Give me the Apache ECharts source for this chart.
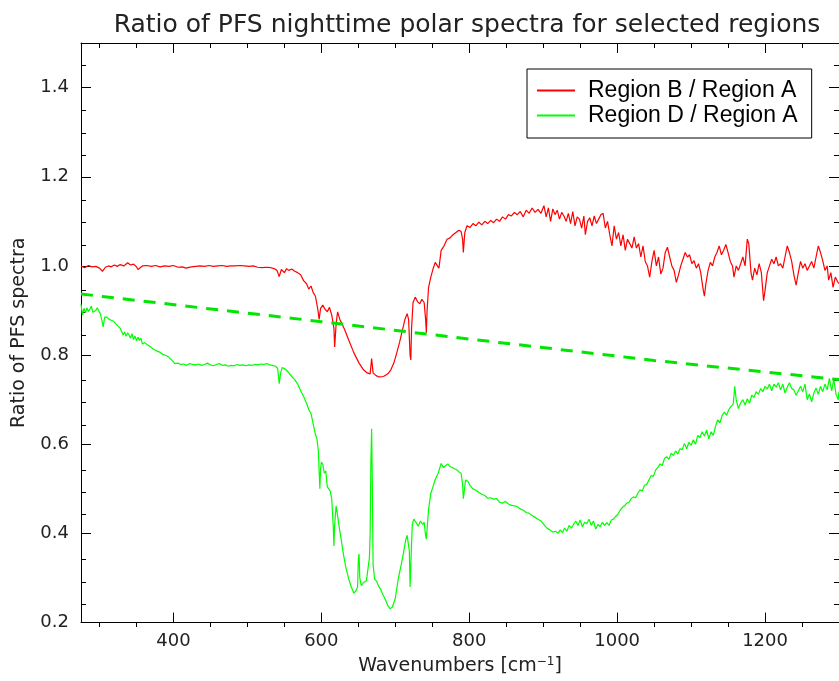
<!DOCTYPE html>
<html>
<head>
<meta charset="utf-8">
<script src="https://cdn.jsdelivr.net/npm/echarts@6/dist/echarts.min.js"></script>
<style>html,body{margin:0;padding:0;background:#fff}#c{width:839px;height:681px}</style>
</head>
<body>
<div id="c"></div>
<script>
// ---- tick values ----
var xMajorTicks = [400, 600, 800, 1000, 1200];
var xMinorTicks = [300, 350, 450, 500, 550, 650, 700, 750, 850, 900, 950, 1050, 1100, 1150, 1250, 1300];
var yMajorTicks = [0.2, 0.4, 0.6, 0.8, 1.0, 1.2, 1.4];
var yMinorTicks = [0.25, 0.3, 0.35, 0.45, 0.5, 0.55, 0.65, 0.7, 0.75, 0.85, 0.9, 0.95, 1.05, 1.1, 1.15, 1.25, 1.3, 1.35, 1.45, 1.5];

// ---- Region B / Region A ----
var wnB = [275,280,285,290,295,300,304,308,312,316,320,324,328,333,338,342,346,350,352,358,364,370,376,382,388,394,400,406,412,417,424,430,436,442,448,454,460,466,472,478,484,490,496,502,508,514,520,526,532,536,540,543,546,550,553,556,560,564,568,572,576,580,583,586,589,592,595,597,599,602,605,608,611,614,617,618,620,622,625,628,632,637,644,651,657,662,666,668,670,674,678,684,690,694,698,702,706,710,713,716,718,720,721,722,724,727,730,733,736,739,741,742,743,745,748,751,754,757,759,762,766,770,774,778,782,786,789,791,792,794,797,801,805,809,813,817,821,825,829,833,837,841,845,849,853,857,861,865,869,873,877,881,885,889,893,897,901,904,907,910,913,916,919,922,925,928,931,934,937,940,943,946,949,952,955,957,960,963,966,969,972,975,978,981,984,987,990,993,996,999,1002,1005,1008,1011,1014,1017,1020,1023,1026,1029,1032,1035,1038,1041,1044,1047,1050,1053,1056,1059,1062,1065,1068,1071,1074,1077,1080,1083,1086,1089,1092,1095,1098,1101,1104,1107,1110,1113,1116,1118,1120,1123,1126,1129,1132,1135,1138,1141,1144,1147,1150,1153,1156,1158,1161,1164,1167,1170,1173,1176,1178,1181,1183,1186,1189,1192,1195,1198,1200,1203,1206,1209,1212,1215,1218,1221,1224,1227,1230,1233,1236,1239,1242,1245,1248,1251,1254,1257,1260,1263,1266,1269,1272,1275,1278,1281,1284,1286,1289,1292,1295,1298,1300];
var ratioB = [1.000,0.996,1.001,0.998,0.999,0.995,0.988,0.997,1.000,0.998,1.002,0.999,1.003,1.000,1.007,1.002,1.004,0.998,0.992,1.000,1.001,0.999,1.001,0.998,1.000,0.999,1.001,0.997,0.998,0.995,0.998,0.999,1.000,0.999,1.001,0.999,1.000,1.001,0.999,1.000,1.000,1.001,1.000,0.999,1.000,0.997,0.996,0.997,0.996,0.994,0.990,0.976,0.992,0.985,0.994,0.990,0.993,0.988,0.985,0.980,0.967,0.960,0.948,0.955,0.940,0.932,0.905,0.880,0.905,0.912,0.903,0.897,0.907,0.890,0.860,0.818,0.870,0.897,0.880,0.870,0.855,0.834,0.805,0.782,0.767,0.760,0.758,0.792,0.760,0.754,0.751,0.752,0.758,0.767,0.782,0.805,0.830,0.858,0.880,0.893,0.880,0.800,0.789,0.860,0.918,0.930,0.920,0.915,0.925,0.918,0.880,0.850,0.900,0.952,0.975,0.993,1.008,1.000,0.995,1.035,1.045,1.060,1.063,1.070,1.075,1.080,1.077,1.060,1.030,1.075,1.090,1.086,1.095,1.090,1.098,1.092,1.100,1.095,1.102,1.097,1.105,1.100,1.110,1.105,1.115,1.112,1.120,1.115,1.122,1.110,1.125,1.118,1.130,1.120,1.127,1.118,1.135,1.110,1.130,1.100,1.128,1.115,1.125,1.105,1.120,1.112,1.100,1.118,1.095,1.122,1.090,1.110,1.105,1.085,1.112,1.070,1.100,1.108,1.090,1.112,1.095,1.105,1.115,1.118,1.085,1.100,1.070,1.045,1.090,1.060,1.075,1.045,1.070,1.035,1.060,1.050,1.040,1.065,1.040,1.050,1.020,1.045,1.010,1.000,0.975,1.010,1.035,1.000,1.020,0.982,0.995,1.030,1.042,1.020,1.000,0.990,0.963,0.980,1.000,1.015,1.030,1.020,1.025,1.005,1.012,0.995,1.005,0.985,0.950,0.932,0.960,0.990,1.008,1.000,1.020,1.030,1.045,1.025,1.035,1.048,1.030,1.010,1.000,0.975,1.000,0.990,1.005,1.020,1.000,1.060,1.050,0.985,0.968,0.995,0.980,1.005,0.985,0.922,0.945,0.985,1.000,1.015,1.005,1.020,1.000,1.005,0.995,1.020,1.045,1.030,1.010,0.980,0.957,0.985,1.010,0.995,1.005,0.990,1.000,1.010,0.995,1.020,1.045,1.030,1.012,0.990,1.000,0.968,0.985,0.952,0.975,0.965,0.960];

// ---- Region D / Region A ----
var wnD = [275,277,279,281,283,285,287,289,291,293,295,297,299,301,303,305,307,310,313,316,319,322,325,328,330,332,334,336,338,340,342,344,346,348,350,352,354,356,358,361,364,367,370,374,378,382,386,390,394,398,402,406,410,414,418,422,426,430,434,438,442,446,450,454,458,462,466,470,474,478,482,486,490,494,498,502,506,510,514,518,522,526,530,534,538,541,543,545,547,550,553,556,560,564,568,572,576,580,583,586,589,592,594,596,597,598,599,600,602,604,606,608,610,612,614,616,617,618,620,622,624,627,630,633,637,640,644,647,649,650,651,652,654,657,661,663,665,666,667,668,669,670,672,675,677,680,684,687,690,693,696,700,704,708,711,714,716,718,719,720,721,723,725,728,731,734,737,739,741,742,743,745,748,751,754,758,762,765,768,771,774,777,780,783,786,789,791,792,793,795,798,801,805,809,813,817,821,825,829,833,837,841,845,849,853,857,861,865,869,873,877,881,885,889,893,897,901,905,909,913,917,920,923,926,929,932,935,938,941,944,947,950,953,956,959,962,965,968,971,974,977,980,983,986,989,992,995,998,1001,1004,1007,1010,1013,1016,1019,1022,1025,1028,1031,1034,1037,1040,1043,1046,1049,1052,1055,1058,1061,1064,1067,1070,1073,1076,1079,1082,1085,1088,1091,1094,1097,1100,1103,1106,1109,1112,1115,1118,1121,1124,1127,1130,1133,1136,1139,1142,1145,1148,1151,1154,1157,1159,1161,1164,1167,1170,1173,1176,1179,1182,1185,1188,1191,1194,1197,1200,1203,1206,1209,1212,1215,1218,1221,1224,1227,1230,1233,1236,1239,1242,1245,1248,1251,1254,1257,1260,1263,1266,1269,1272,1275,1278,1281,1284,1287,1290,1293,1296,1299,1300];
var ratioD = [0.914,0.890,0.905,0.895,0.906,0.898,0.903,0.910,0.896,0.894,0.900,0.906,0.899,0.893,0.880,0.863,0.885,0.885,0.880,0.878,0.876,0.870,0.865,0.860,0.858,0.845,0.852,0.842,0.850,0.845,0.838,0.848,0.835,0.843,0.832,0.840,0.833,0.838,0.825,0.828,0.824,0.821,0.817,0.812,0.809,0.806,0.801,0.799,0.795,0.788,0.781,0.782,0.779,0.780,0.777,0.781,0.779,0.778,0.780,0.777,0.779,0.782,0.778,0.776,0.779,0.781,0.777,0.778,0.775,0.777,0.776,0.779,0.777,0.778,0.776,0.778,0.777,0.779,0.778,0.780,0.779,0.781,0.778,0.777,0.775,0.770,0.736,0.760,0.772,0.770,0.766,0.760,0.752,0.745,0.735,0.720,0.707,0.692,0.678,0.669,0.645,0.622,0.612,0.585,0.540,0.500,0.545,0.560,0.555,0.535,0.540,0.505,0.502,0.495,0.478,0.420,0.372,0.420,0.462,0.440,0.416,0.385,0.352,0.325,0.298,0.282,0.266,0.272,0.280,0.340,0.354,0.300,0.283,0.290,0.294,0.320,0.345,0.400,0.560,0.635,0.500,0.330,0.298,0.292,0.283,0.275,0.260,0.250,0.238,0.231,0.235,0.254,0.298,0.330,0.356,0.385,0.396,0.399,0.360,0.280,0.330,0.420,0.432,0.425,0.416,0.428,0.420,0.425,0.395,0.387,0.410,0.454,0.490,0.505,0.521,0.535,0.557,0.548,0.552,0.556,0.550,0.548,0.545,0.543,0.538,0.535,0.510,0.478,0.490,0.520,0.517,0.508,0.500,0.497,0.492,0.488,0.485,0.479,0.480,0.477,0.478,0.470,0.468,0.472,0.466,0.463,0.462,0.460,0.455,0.452,0.447,0.445,0.440,0.436,0.432,0.428,0.420,0.412,0.408,0.403,0.405,0.400,0.408,0.402,0.412,0.405,0.418,0.412,0.420,0.428,0.418,0.430,0.415,0.425,0.422,0.432,0.418,0.428,0.410,0.420,0.415,0.425,0.418,0.424,0.418,0.430,0.432,0.438,0.443,0.452,0.458,0.462,0.468,0.470,0.478,0.482,0.480,0.490,0.498,0.495,0.508,0.510,0.520,0.530,0.528,0.542,0.548,0.556,0.552,0.568,0.572,0.566,0.580,0.575,0.585,0.578,0.590,0.588,0.602,0.590,0.604,0.598,0.610,0.600,0.620,0.615,0.628,0.618,0.632,0.612,0.628,0.620,0.640,0.655,0.648,0.665,0.672,0.665,0.678,0.685,0.690,0.730,0.700,0.680,0.693,0.700,0.688,0.702,0.692,0.710,0.705,0.718,0.712,0.725,0.718,0.730,0.724,0.735,0.720,0.735,0.728,0.738,0.722,0.735,0.715,0.728,0.738,0.725,0.722,0.710,0.720,0.730,0.718,0.735,0.700,0.713,0.695,0.715,0.726,0.712,0.730,0.718,0.735,0.722,0.748,0.720,0.745,0.712,0.700,0.718];

// ---- dashed green reference line ----
var wnFit = [275, 600, 800, 1050, 1300];
var ratioFit = [0.937, 0.875, 0.836, 0.788, 0.745];

function pairs(xs, ys) { return xs.map(function (x, i) { return [x, ys[i]]; }); }

var FONT = 'DejaVu Sans';
var TXT = '#222';
var GRID = { left: 81, top: 43, width: 762, height: 584 };

function xAx(gi, pos, ticks, len, line, labels) {
  return {
    type: 'value', gridIndex: gi, position: pos, min: 275, max: 1300,
    axisLine: { show: line, lineStyle: { color: '#000', width: 1 } },
    axisTick: { show: true, inside: true, length: len, customValues: ticks, lineStyle: { color: '#000', width: 1 } },
    axisLabel: labels ? { show: true, customValues: ticks, fontFamily: FONT, fontSize: 18, color: TXT, margin: 10,
      formatter: function (v) { return String(v); } } : { show: false },
    splitLine: { show: false }
  };
}
function yAx(gi, pos, ticks, len, line, labels) {
  return {
    type: 'value', gridIndex: gi, position: pos, min: 0.2, max: 1.5,
    axisLine: { show: line, lineStyle: { color: '#000', width: 1 } },
    axisTick: { show: true, inside: true, length: len, customValues: ticks, lineStyle: { color: '#000', width: 1 } },
    axisLabel: labels ? { show: true, customValues: ticks, fontFamily: FONT, fontSize: 18, color: TXT, margin: 12,
      formatter: function (v) { return v.toFixed(1); } } : { show: false },
    splitLine: { show: false }
  };
}

var xb = xAx(0, 'bottom', xMajorTicks, 10, true, true);
xb.name = 'Wavenumbers [cm{sup|\u22121}]';
xb.nameLocation = 'middle';
xb.nameGap = 32;
xb.nameTextStyle = { fontFamily: FONT, fontSize: 19, color: TXT,
  rich: { sup: { fontFamily: FONT, fontSize: 12, color: TXT, verticalAlign: 'top', padding: [0, 0, 10, 0] } } };

var yl = yAx(0, 'left', yMajorTicks, 10, true, true);
yl.name = 'Ratio of PFS spectra';
yl.nameLocation = 'middle';
yl.nameGap = 52;
yl.nameTextStyle = { fontFamily: FONT, fontSize: 19, color: TXT };

var chart = echarts.init(document.getElementById('c'), null, { renderer: 'canvas' });
chart.setOption({
  backgroundColor: '#fff',
  animation: false,
  title: {
    text: 'Ratio of PFS nighttime polar spectra for selected regions',
    left: 462, top: 8, textAlign: 'center',
    textStyle: { fontFamily: FONT, fontSize: 25, fontWeight: 'normal', color: TXT }
  },
  legend: {
    data: ['Region B / Region A', 'Region D / Region A'],
    orient: 'vertical', left: 527, top: 69,
    padding: [9, 14, 10, 10], itemGap: 0, itemWidth: 38, itemHeight: 2,
    icon: 'rect', selectedMode: false,
    borderColor: '#000', borderWidth: 1, borderRadius: 0,
    textStyle: { fontFamily: 'Liberation Sans', fontSize: 23, color: '#000', lineHeight: 25, padding: [0, 0, 0, 8] }
  },
  grid: [
    Object.assign({}, GRID, { containLabel: false }),
    Object.assign({}, GRID, { containLabel: false })
  ],
  xAxis: [
    xb,
    xAx(0, 'top', xMajorTicks, 10, true, false),
    xAx(1, 'bottom', xMinorTicks, 5, false, false),
    xAx(1, 'top', xMinorTicks, 5, false, false)
  ],
  yAxis: [
    yl,
    yAx(0, 'right', yMajorTicks, 10, true, false),
    yAx(1, 'left', yMinorTicks, 5, false, false),
    yAx(1, 'right', yMinorTicks, 5, false, false)
  ],
  series: [
    { name: 'Region B / Region A', type: 'line', xAxisIndex: 0, yAxisIndex: 0, data: pairs(wnB, ratioB),
      showSymbol: false, symbol: 'none', color: '#ff0000', lineStyle: { color: '#ff0000', width: 1.2 } },
    { name: 'Region D / Region A', type: 'line', xAxisIndex: 0, yAxisIndex: 0, data: pairs(wnD, ratioD),
      showSymbol: false, symbol: 'none', color: '#00ff00', lineStyle: { color: '#00ff00', width: 1.2 } },
    { name: 'D/A reference', type: 'line', xAxisIndex: 0, yAxisIndex: 0, data: pairs(wnFit, ratioFit),
      showSymbol: false, symbol: 'none', color: '#00ee00', lineStyle: { color: '#00e600', width: 3, type: [12, 9] } }
  ]
});
</script>
</body>
</html>
